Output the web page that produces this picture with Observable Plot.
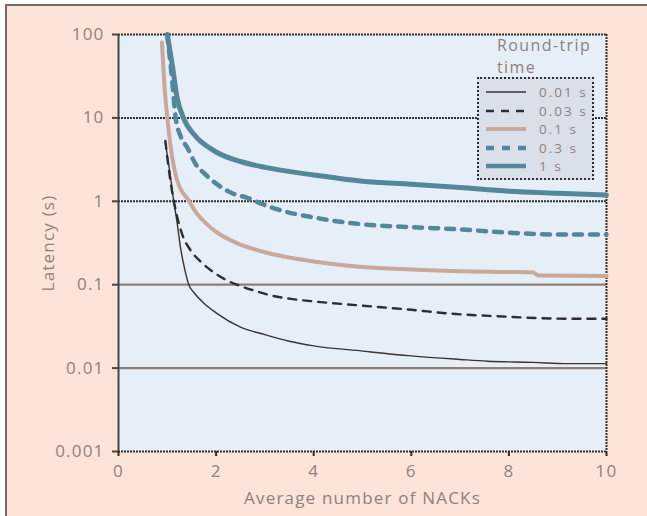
<!DOCTYPE html>
<html><head><meta charset="utf-8">
<script src="https://cdn.jsdelivr.net/npm/d3@7"></script>
<script src="https://cdn.jsdelivr.net/npm/@observablehq/plot@0.6"></script>
<style>
body{margin:0;background:#fff;}
#wrap{position:relative;width:647px;height:516px;overflow:hidden;font-family:"Open Sans",sans-serif;}
#bg{position:absolute;left:5px;top:4px;width:650px;height:520px;border-left:2px solid #6e6a68;border-top:2px solid #6e6a68;background:#fce4d8;}
#chart{position:absolute;left:0;top:0;}
#title{position:absolute;left:497px;top:34px;font-size:16px;letter-spacing:1.4px;line-height:22px;color:#8e827d;}
#legend{position:absolute;left:477px;top:77px;width:113px;height:99px;background:#d9e0e9;border:2px dotted #2e2e2e;}
.row{position:absolute;left:5px;width:106px;height:18px;font-size:13.5px;line-height:18px;letter-spacing:2px;color:#8e827d;}
.row svg{position:absolute;left:0;top:0;}
.row span{position:absolute;left:55px;top:0;height:18px;line-height:18px;white-space:nowrap;}
</style></head>
<body><div id="wrap"><div id="bg"></div><div id="chart"></div><div id="title">Round-trip<br>time</div><div id="legend"></div></div>
<script>
// Series labels (round-trip time)
const seriesNames = ["0.01 s", "0.03 s", "0.1 s", "0.3 s", "1 s"];
const xTicks = [0, 2, 4, 6, 8, 10];
const yTicks = [0.001, 0.01, 0.1, 1, 10, 100];

// [average number of NACKs, latency (s)]
const rtt001 = [[0.96,5.0],[1.05,2.3],[1.13,1.02],[1.2,0.56],[1.27,0.28],[1.35,0.16],[1.44,0.1],[1.55,0.08],[1.75,0.06],[2.0,0.046],[2.5,0.031],[3.0,0.0252],[3.5,0.021],[4.0,0.0185],[5.0,0.016],[6.0,0.014],[7.0,0.0127],[7.56,0.0121],[8.5,0.0117],[9.2,0.0113],[10,0.0113]];
const rtt003 = [[0.96,5.3],[1.05,2.0],[1.15,0.9],[1.3,0.41],[1.48,0.257],[1.68,0.19],[1.92,0.145],[2.23,0.112],[2.53,0.095],[2.84,0.083],[3.1,0.075],[3.5,0.068],[4.0,0.063],[5.0,0.056],[6.0,0.05],[6.8,0.045],[7.7,0.042],[9.3,0.039],[10,0.039]];
const rtt01 = [[0.89,80],[0.96,17.6],[1.0,10.2],[1.07,4.45],[1.2,1.8],[1.45,1.0],[1.6,0.72],[1.8,0.54],[2.0,0.43],[2.4,0.32],[3.0,0.245],[4.0,0.19],[5.0,0.163],[6.0,0.152],[7.0,0.145],[8.0,0.142],[8.5,0.14],[8.6,0.129],[10,0.127]];
const rtt03 = [[1.0,100],[1.1,28],[1.17,10.2],[1.27,6.1],[1.41,4.4],[1.58,2.8],[1.78,2.1],[2.05,1.55],[2.33,1.25],[2.64,1.1],[2.94,0.93],[3.26,0.8],[4.0,0.64],[5.0,0.53],[6.0,0.49],[7.0,0.46],[8.0,0.42],[9.0,0.4],[10,0.4]];
const rtt1 = [[1.0,100],[1.1,44],[1.2,17.6],[1.34,9.7],[1.54,6.4],[2.0,3.9],[2.5,3.0],[3.0,2.55],[4.0,2.07],[5.0,1.74],[6.0,1.6],[7.0,1.46],[8.0,1.32],[9.0,1.25],[10,1.19]];

const styles = [
  {stroke:"#383434", strokeWidth:1.4, dash:null},
  {stroke:"#2e2e2e", strokeWidth:2.4, dash:"8,7"},
  {stroke:"#c8a99b", strokeWidth:4, dash:null},
  {stroke:"#52889a", strokeWidth:4.5, dash:"8,8"},
  {stroke:"#52889a", strokeWidth:5, dash:null}
];
const allSeries = [rtt001, rtt003, rtt01, rtt03, rtt1];
const table = allSeries.map((s, i) => s.map(([n, l]) => ({n, l, series: seriesNames[i]})));

const textColor = "#8e827d";
const chart = Plot.plot({
  width: 647, height: 516,
  marginLeft: 118, marginRight: 41, marginTop: 34, marginBottom: 65,
  style: `background:transparent;font-family:'Open Sans',sans-serif;font-size:17px;letter-spacing:1.2px;color:${textColor};`,
  x: {domain: [0, 10]},
  y: {type: "log", domain: [0.001, 100]},
  marks: [
    Plot.frame({fill: "#e6eef8", stroke: null}),
    Plot.ruleY([0.1, 0.01], {stroke: "#8d807a", strokeWidth: 2.2}),
    Plot.ruleY([100, 10, 1, 0.001], {stroke: "#2e2e2e", strokeWidth: 2, strokeDasharray: "2,1"}),
    Plot.ruleX([10], {stroke: "#2e2e2e", strokeWidth: 2, strokeDasharray: "2,1"}),
    ...table.map((d, i) => Plot.line(d, {x: "n", y: "l", stroke: styles[i].stroke, strokeWidth: styles[i].strokeWidth, strokeDasharray: styles[i].dash, curve: "monotone-x"})),
    Plot.ruleX([0], {stroke: "#4a4444", strokeWidth: 2}),
    Plot.axisY({ticks: yTicks, tickFormat: d => String(d), tickSize: 6, tickPadding: 8, stroke: "#4a4444", strokeWidth: 2, fill: textColor,
      label: "Latency (s)", labelAnchor: "center", labelArrow: "none", labelOffset: 77}),
    Plot.axisX({ticks: xTicks, tickSize: 5, tickPadding: 8, stroke: "#2e2e2e", strokeWidth: 2, fill: textColor,
      label: "Average number of NACKs", labelAnchor: "center", labelArrow: "none", labelOffset: 52})
  ]
});
document.getElementById("chart").appendChild(chart);

// Legend
const leg = document.getElementById("legend");
seriesNames.forEach((name, i) => {
  const st = styles[i];
  const row = document.createElement("div");
  row.className = "row";
  row.style.top = (4 + i * 18.5) + "px";
  row.innerHTML = `<svg width="44" height="18"><line x1="2" x2="42" y1="9" y2="9" stroke="${st.stroke}" stroke-width="${Math.min(st.strokeWidth,4.5)}" ${st.dash ? `stroke-dasharray="${st.dash}"` : ""}/></svg><span>${name}</span>`;
  leg.appendChild(row);
});
</script>
</body></html>
